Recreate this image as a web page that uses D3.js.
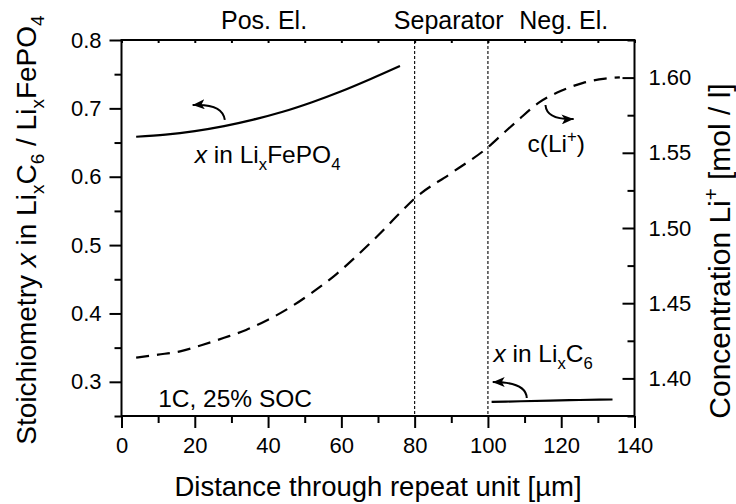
<!DOCTYPE html>
<html><head><meta charset="utf-8">
<script src="https://cdn.jsdelivr.net/npm/d3@7"></script>
<style>
body{margin:0;background:#fff}
text{font-family:"Liberation Sans",Arial,Helvetica,sans-serif;fill:#000}
</style>
</head><body>
<svg id="chart" width="736" height="504"></svg>
<script>
// ---- data ----
const posX = [4,12,20,28,36,44,52,60,68,76];
const posStoich = [0.6585,0.6615,0.6667,0.674,0.6835,0.695,0.709,0.725,0.743,0.762];
const negX = [101,109,117,125,134];
const negStoich = [0.2706,0.2716,0.2726,0.2734,0.2741];
const concX = [4,10,16,22,28,34,40,46,52,58,64,70,76,80,90,100,104,108,114,120,126,132,136];
const concVal = [1.4138,1.4158,1.418,1.4222,1.427,1.4322,1.439,1.4472,1.457,1.468,1.481,1.495,1.510,1.5196,1.5365,1.5537,1.5625,1.5712,1.5835,1.5912,1.5965,1.5993,1.6002];
const xTicks = [0,20,40,60,80,100,120,140];
const xMinor = [10,30,50,70,90,110,130];
const leftTicks = [0.3,0.4,0.5,0.6,0.7,0.8];
const leftMinor = [0.25,0.35,0.45,0.55,0.65,0.75];
const rightTicks = [1.40,1.45,1.50,1.55,1.60];
const rightMinor = [1.375,1.425,1.475,1.525,1.575,1.625];
const boundaries = [80,100];
const regionNames = ["Pos. El.","Separator","Neg. El."];
const regionCenters = [38.9,89.3,120.7];

// ---- layout ----
const W=736,H=504;
const L=121.5,R=634.5,T=40,B=416;
const svg=d3.select("#chart");
const x=d3.scaleLinear().domain([0,140]).range([L,R]);
const yL=d3.scaleLinear().domain([0.25,0.8]).range([B,T]);
const yR=d3.scaleLinear().domain([1.375,1.625]).range([B,T]);
const tickFont=22;

// minor ticks
svg.append("g").attr("transform",`translate(0,${B})`)
  .call(d3.axisBottom(x).tickValues(xMinor).tickSize(7).tickFormat(""))
  .call(g=>g.select(".domain").remove());
svg.append("g").attr("transform",`translate(${L},0)`)
  .call(d3.axisLeft(yL).tickValues(leftMinor).tickSize(7).tickFormat(""))
  .call(g=>g.select(".domain").remove());
svg.append("g").attr("transform",`translate(${R},0)`)
  .call(d3.axisRight(yR).tickValues(rightMinor).tickSizeInner(-7).tickSizeOuter(0).tickFormat(""))
  .call(g=>g.select(".domain").remove());
svg.append("g").attr("transform",`translate(0,${T})`)
  .call(d3.axisTop(x).tickValues(xMinor.concat(xTicks)).tickSizeInner(-3).tickSizeOuter(0).tickFormat(""))
  .call(g=>g.select(".domain").remove());

// major axes
const gx=svg.append("g").attr("transform",`translate(0,${B})`)
  .call(d3.axisBottom(x).tickValues(xTicks).tickSize(12).tickPadding(9).tickFormat(d3.format("d")));
const gl=svg.append("g").attr("transform",`translate(${L},0)`)
  .call(d3.axisLeft(yL).tickValues(leftTicks).tickSize(12).tickPadding(8).tickFormat(d3.format(".1f")));
const gr=svg.append("g").attr("transform",`translate(${R},0)`)
  .call(d3.axisRight(yR).tickValues(rightTicks).tickSizeInner(-12).tickSizeOuter(0).tickPadding(14).tickFormat(d3.format(".2f")));
[gx,gl,gr].forEach(g=>{
  g.selectAll(".domain").remove();
  g.selectAll("text").style("font-size",tickFont+"px").attr("fill","#000");
});
svg.selectAll(".tick line").attr("stroke","#000").attr("stroke-width",2);

// frame
svg.append("rect").attr("x",L).attr("y",T).attr("width",R-L).attr("height",B-T)
  .attr("fill","none").attr("stroke","#000").attr("stroke-width",2);

// boundaries
svg.selectAll(".bnd").data(boundaries).join("line").attr("class","bnd")
  .attr("x1",d=>x(d)).attr("x2",d=>x(d)).attr("y1",T+1).attr("y2",B-1)
  .attr("stroke","#000").attr("stroke-width",1.1).attr("stroke-dasharray","3,2");

// region labels
svg.selectAll(".reg").data(regionNames).join("text").attr("class","reg")
  .attr("x",(d,i)=>x(regionCenters[i])).attr("y",29)
  .attr("text-anchor","middle").style("font-size","25px").text(d=>d);

// curves
const lineL=d3.line().x(d=>x(d[0])).y(d=>yL(d[1])).curve(d3.curveMonotoneX);
const lineR=d3.line().x(d=>x(d[0])).y(d=>yR(d[1])).curve(d3.curveMonotoneX);
svg.append("path").datum(posX.map((v,i)=>[v,posStoich[i]])).attr("d",lineL)
  .attr("fill","none").attr("stroke","#000").attr("stroke-width",2.2);
svg.append("path").datum(negX.map((v,i)=>[v,negStoich[i]])).attr("d",lineL)
  .attr("fill","none").attr("stroke","#000").attr("stroke-width",2.2);
svg.append("path").datum(concX.map((v,i)=>[v,concVal[i]])).attr("d",lineR)
  .attr("fill","none").attr("stroke","#000").attr("stroke-width",2.2).attr("stroke-dasharray","13,8");

// arrows
svg.append("defs").append("marker").attr("id","ah").attr("viewBox","0 0 12 10")
  .attr("refX",12).attr("refY",5).attr("markerWidth",12).attr("markerHeight",10)
  .attr("markerUnits","userSpaceOnUse").attr("orient","auto")
  .append("path").attr("d","M0,0 L12,5 L0,10 L3,5 Z").attr("fill","#000");
function arrow(a,ys){
  const p=d3.path();
  p.moveTo(x(a.s[0]),ys(a.s[1]));
  p.quadraticCurveTo(x(a.c[0]),ys(a.c[1]),x(a.e[0]),ys(a.e[1]));
  svg.append("path").attr("d",p.toString()).attr("fill","none").attr("stroke","#000")
    .attr("stroke-width",2).attr("marker-end","url(#ah)");
}
// arrow anchors in data units
const a1={s:[28.2,0.683],c:[27.6,0.7075],e:[19.4,0.7048]};
const a2={s:[115.7,1.5818],c:[116.0,1.5718],e:[123.4,1.5725]};
const a3={s:[110.6,0.2763],c:[110.4,0.2997],e:[101.3,0.2997]};
arrow(a1,yL); arrow(a2,yR); arrow(a3,yL);

// annotation texts
function rich(t,parts,size){
  parts.forEach(p=>{
    const s=t.append("tspan").text(p.t);
    if(p.i) s.style("font-style","italic");
    if(p.sub){ s.attr("dy",size*0.28+"px").style("font-size",size*0.68+"px"); }
    if(p.sup){ s.attr("dy",-size*0.4+"px").style("font-size",size*0.68+"px"); }
    if(p.back) s.attr("dy",p.back+"px");
  });
}
const annSize=24.5;
let t=svg.append("text").attr("x",x(20)).attr("y",yL(0.620)).style("font-size",annSize+"px");
rich(t,[{t:"x",i:true},{t:" in Li"},{t:"x",sub:true},{t:"FePO",back:-annSize*0.28},{t:"4",sub:true}],annSize);
t=svg.append("text").attr("x",x(110.8)).attr("y",yR(1.5505)).style("font-size",annSize+"px");
rich(t,[{t:"c(Li"},{t:"+",sup:true},{t:")",back:annSize*0.4}],annSize);
t=svg.append("text").attr("x",x(101.5)).attr("y",yL(0.3294)).style("font-size",annSize+"px");
rich(t,[{t:"x",i:true},{t:" in Li"},{t:"x",sub:true},{t:"C",back:-annSize*0.28},{t:"6",sub:true}],annSize);
svg.append("text").attr("x",x(10)).attr("y",yL(0.2636)).style("font-size",annSize+"px").text("1C, 25% SOC");

// axis titles
svg.append("text").attr("x",(L+R)/2).attr("y",496).attr("text-anchor","middle")
  .style("font-size","27.5px").text("Distance through repeat unit [µm]");
const lts=28;
t=svg.append("text").attr("transform","translate(36,230) rotate(-90)").attr("text-anchor","middle")
  .style("font-size",lts+"px");
rich(t,[{t:"Stoichiometry "},{t:"x",i:true},{t:" in Li"},{t:"x",sub:true},{t:"C",back:-lts*0.28},{t:"6",sub:true},
  {t:" / Li",back:-lts*0.28},{t:"x",sub:true},{t:"FePO",back:-lts*0.28},{t:"4",sub:true}],lts);
const rts=30;
t=svg.append("text").attr("transform","translate(730,251) rotate(-90)").attr("text-anchor","middle")
  .style("font-size",rts+"px");
rich(t,[{t:"Concentration Li"},{t:"+",sup:true},{t:" [mol / l]",back:rts*0.4}],rts);
</script>
</body></html>
